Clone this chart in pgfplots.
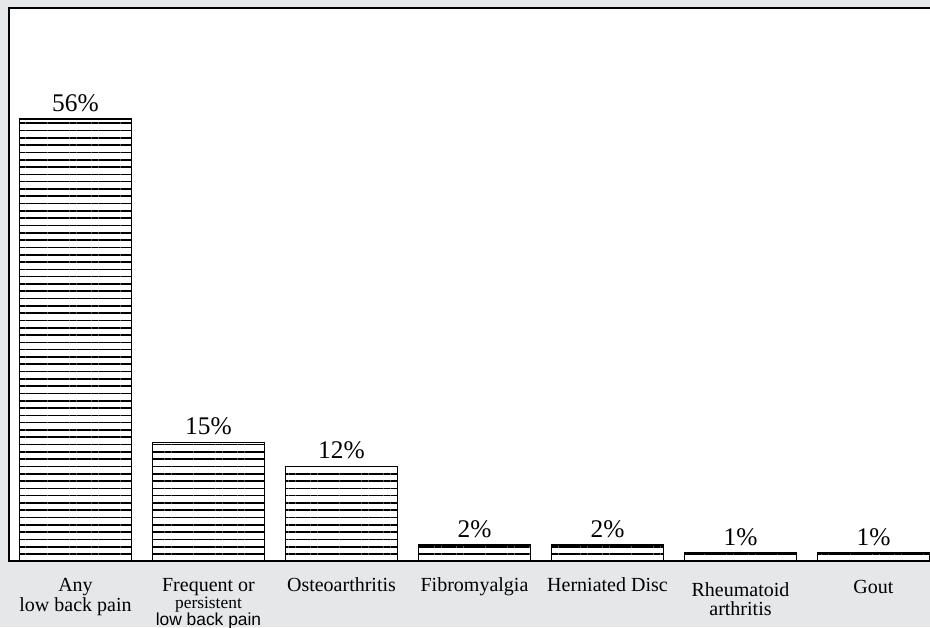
\documentclass[border=0pt]{standalone}
\usepackage{fontspec}
\setmainfont{Liberation Serif}
\setsansfont{Liberation Sans}
\usepackage{pgfplots}
\pgfplotsset{compat=1.18}
\usetikzlibrary{patterns.meta}
\definecolor{bggray}{RGB}{230,231,233}
\begin{document}
\begin{tikzpicture}
\fill[bggray] (0,0) rectangle (465pt,313.5pt);
\useasboundingbox (0,0) rectangle (465pt,313.5pt);
\begin{axis}[
 at={(4.5pt,33pt)}, anchor=south west,
 scale only axis, width=461.5pt, height=276.5pt,
 xmin=-0.5, xmax=6.44, ymin=0, ymax=70.1,
 axis background/.style={fill=white},
 axis line style={black, line width=0.6pt},
 ytick=\empty,
 xtick={0,...,6},
 xtick style={draw=none},
 xticklabels={{Any\\[-0.5pt]low back pain},{Frequent or\\[-2pt]{\fontsize{8.7}{9}\selectfont persistent}\\[-2pt]{\sffamily\fontsize{8.7}{9}\selectfont low back pain}},Osteoarthritis,Fibromyalgia,Herniated Disc,{\rule{0pt}{9.4pt}Rheumatoid\\[-1pt]arthritis},{\rule{0pt}{8pt}Gout}},
 xticklabel style={align=center, font=\fontsize{10}{10.5}\selectfont, anchor=north, inner sep=0pt, yshift=-4pt},
 ybar, bar width=56pt, bar shift=0pt,
 nodes near coords={\pgfmathprintnumber[assume math mode=true]{\pgfplotspointmeta}\%},
 nodes near coords style={font=\fontsize{12.7}{13}\selectfont, anchor=south, inner sep=0pt, yshift=3.5pt, black},
]
\addplot[draw=black, line width=0.75pt, fill=white, postaction={pattern={Lines[angle=0,distance=3.65pt,line width=0.8pt]}}] coordinates {(0,56) (1,15) (2,12) (3,2) (4,2) (5,1) (6,1)};
\end{axis}
\end{tikzpicture}
\end{document}
